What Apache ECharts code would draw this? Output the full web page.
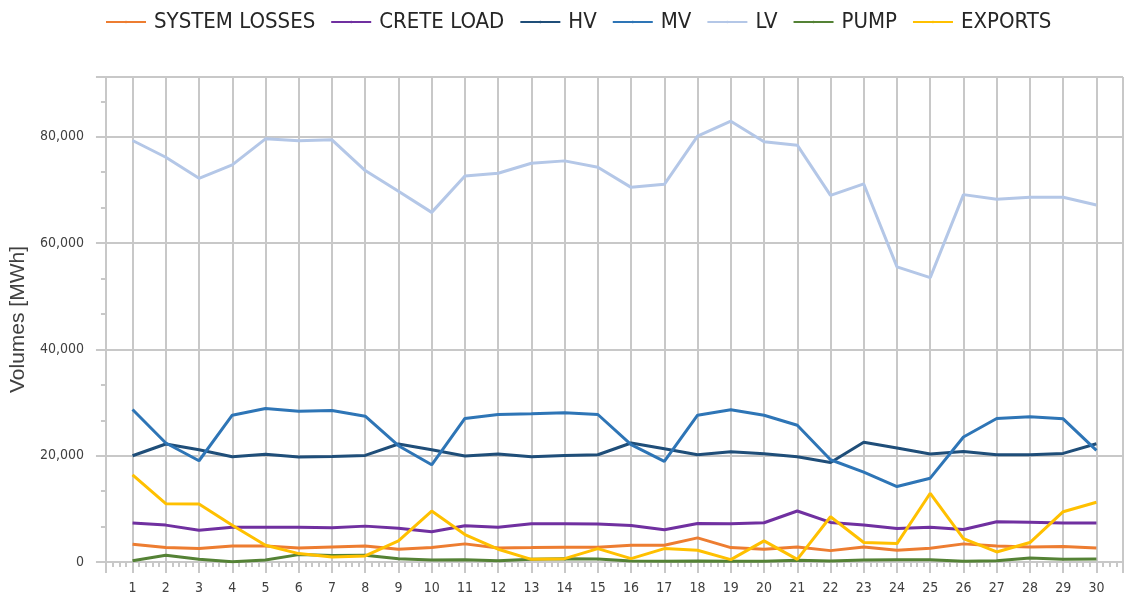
<!DOCTYPE html>
<html>
<head>
<meta charset="utf-8">
<script src="https://cdn.jsdelivr.net/npm/echarts@6/dist/echarts.min.js"></script>
<style>
    html, body { margin: 0; padding: 0; background: #fff; }
    #main { width: 1133px; height: 604px; }
</style>
</head>
<body>
<div id="main"></div>
<script>
var days = [1, 2, 3, 4, 5, 6, 7, 8, 9, 10, 11, 12, 13, 14, 15, 16, 17, 18, 19, 20, 21, 22, 23, 24, 25, 26, 27, 28, 29, 30];
var systemLosses = [3340, 2710, 2520, 3030, 3030, 2650, 2840, 3030, 2400, 2710, 3410, 2650, 2710, 2780, 2780, 3150, 3150, 4540, 2710, 2400, 2840, 2140, 2840, 2210, 2590, 3410, 3030, 2840, 2900, 2650];
var creteLoad = [7320, 6940, 5990, 6560, 6560, 6560, 6430, 6750, 6370, 5680, 6810, 6560, 7190, 7190, 7130, 6870, 6050, 7250, 7190, 7380, 9590, 7440, 6940, 6310, 6560, 6120, 7570, 7500, 7320, 7320];
var hv = [19990, 22200, 21130, 19800, 20250, 19740, 19870, 20060, 22200, 21130, 19930, 20310, 19800, 20060, 20180, 22390, 21320, 20180, 20750, 20370, 19800, 18730, 22520, 21440, 20310, 20810, 20180, 20180, 20430, 22260];
var mv = [28700, 22390, 19050, 27620, 28890, 28380, 28510, 27430, 21880, 18290, 27000, 27750, 27880, 28070, 27750, 22070, 18920, 27620, 28630, 27620, 25730, 19240, 16900, 14190, 15770, 23520, 27000, 27310, 26930, 21000];
var lv = [79300, 76150, 72190, 74720, 79620, 79240, 79430, 73640, 69740, 65780, 72640, 73130, 75020, 75470, 74260, 70490, 71060, 80110, 82940, 79060, 78420, 68980, 71130, 55530, 53510, 69120, 68230, 68610, 68610, 67170];
var pump = [250, 1260, 500, 60, 380, 1390, 1200, 1260, 630, 380, 440, 250, 500, 630, 570, 190, 130, 190, 130, 130, 320, 190, 380, 440, 440, 130, 250, 760, 500, 570];
var exports = [16400, 10970, 10910, 6900, 3150, 1580, 950, 1140, 3970, 9590, 5170, 2400, 500, 630, 2520, 630, 2520, 2210, 440, 3970, 500, 8510, 3660, 3470, 12930, 4410, 1890, 3660, 9460, 11230];

var names = ['SYSTEM LOSSES', 'CRETE LOAD', 'HV', 'MV', 'LV', 'PUMP', 'EXPORTS'];
var colors = ['#ED7D31', '#7030A0', '#1F4E79', '#2E75B6', '#B4C7E7', '#548235', '#FFC000'];
var values = [systemLosses, creteLoad, hv, mv, lv, pump, exports];

var narrow = "'Liberation Sans Narrow', 'DejaVu Sans Condensed', 'Roboto Condensed', Roboto, sans-serif";
var gridGray = '#C8C8C8';

function pairs(vals) {
    var out = [];
    for (var i = 0; i < days.length; i++) {
        out.push([days[i], vals[i]]);
    }
    return out;
}

var series = [];
for (var i = 0; i < names.length; i++) {
    series.push({
        name: names[i],
        type: 'line',
        symbol: 'none',
        color: colors[i],
        lineStyle: { width: 3, color: colors[i] },
        data: pairs(values[i])
    });
}

var chart = echarts.init(document.getElementById('main'));
var option = {
    animation: false,
    backgroundColor: '#fff',
    legend: {
        left: 100,
        top: 6,
        itemWidth: 40,
        itemHeight: 3,
        itemGap: 15,
        textStyle: {
            fontFamily: narrow,
            fontSize: 22,
            color: '#262626',
            padding: [0, 0, 0, 3]
        },
        data: names
    },
    grid: {
        left: 102,
        right: 10,
        top: 77,
        bottom: 42
    },
    xAxis: {
        type: 'value',
        min: 0.2,
        max: 30.8,
        splitNumber: 30,
        minInterval: 1,
        maxInterval: 1,
        axisLine: { show: true, lineStyle: { color: gridGray, width: 2 } },
        axisTick: { show: true, length: 11, lineStyle: { color: gridGray, width: 2 } },
        minorTick: { show: true, splitNumber: 5, length: 5, lineStyle: { color: gridGray, width: 2 } },
        splitLine: { show: true, lineStyle: { color: gridGray, width: 2 } },
        axisLabel: {
            margin: 19,
            fontFamily: narrow,
            fontSize: 14,
            color: '#404040',
            formatter: function (v) {
                return Number.isInteger(v) ? String(v) : '';
            }
        }
    },
    yAxis: {
        type: 'value',
        min: 0,
        max: 91250,
        interval: 20000,
        name: 'Volumes [MWh]',
        nameLocation: 'middle',
        nameGap: 72,
        nameTextStyle: {
            fontFamily: "'Liberation Sans', Arial, sans-serif",
            fontSize: 21,
            color: '#404040'
        },
        axisLine: { show: true, lineStyle: { color: gridGray, width: 2 } },
        axisTick: { show: true, length: 10, lineStyle: { color: gridGray, width: 2 } },
        minorTick: { show: true, splitNumber: 3, length: 5, lineStyle: { color: gridGray, width: 2 } },
        splitLine: { show: true, lineStyle: { color: gridGray, width: 2 } },
        axisLabel: {
            margin: 22,
            fontFamily: narrow,
            fontSize: 14,
            color: '#404040',
            formatter: function (v) {
                return v % 20000 === 0 ? v.toLocaleString('en-US') : '';
            }
        }
    },
    series: series
};
chart.setOption(option);
</script>
</body>
</html>
